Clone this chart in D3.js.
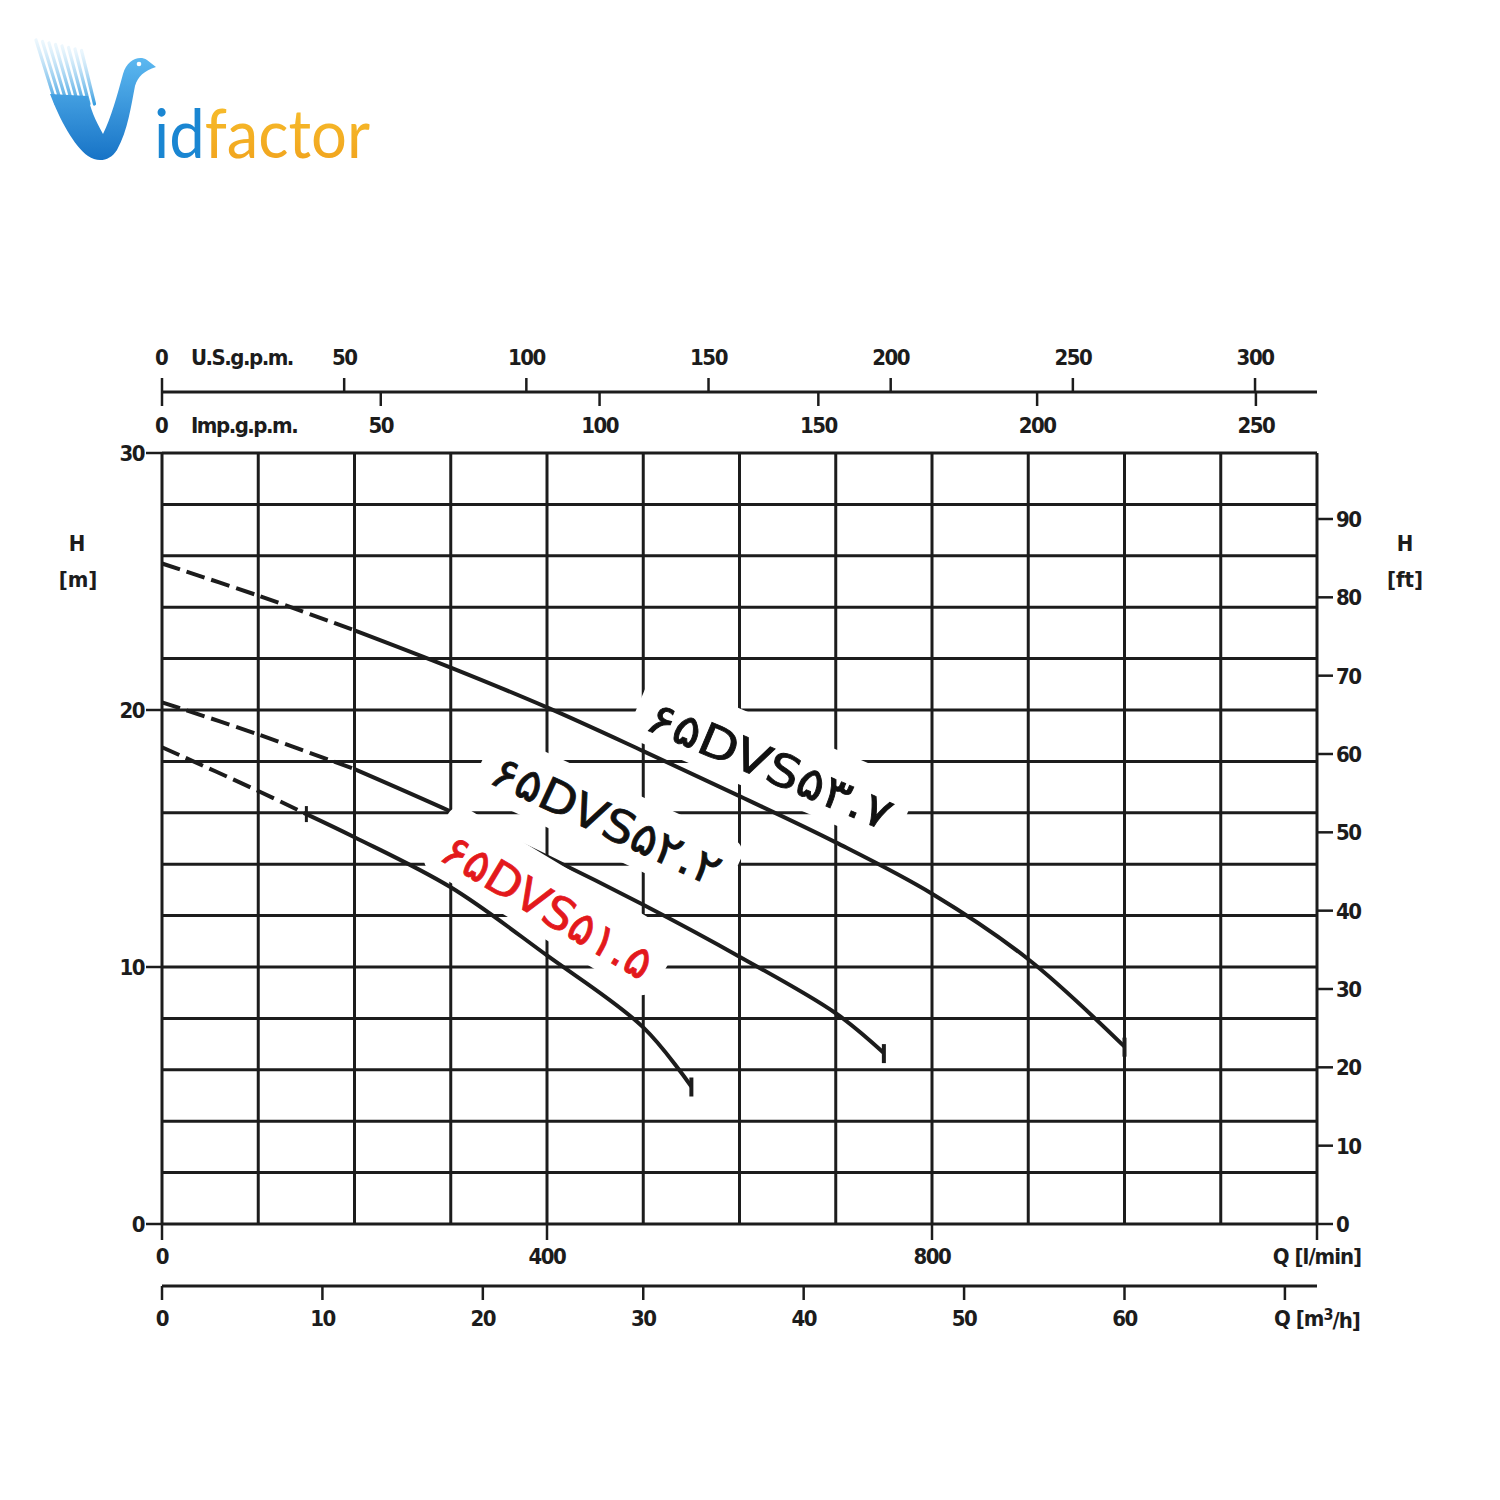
<!DOCTYPE html>
<html><head><meta charset="utf-8">
<script src="https://cdn.jsdelivr.net/npm/d3@7"></script>
<style>body{margin:0;background:#fff} svg{display:block}</style>
</head><body><svg id="c" width="1500" height="1500"></svg>
<script>
// ---- data ----
const qA = [0,100,200,300,400,500,600,700,800,900,1000];          // l/min
const hA = [25.7,24.45,23.1,21.65,20.1,18.4,16.65,14.85,12.85,10.3,6.9]; // m
const qB = [0,100,200,300,400,500,600,700,750];
const hB = [20.3,19.05,17.7,16.05,14.3,12.42,10.4,8.2,6.65];
const qC = [0,100,150,200,300,400,500,550];
const hC = [18.55,16.85,15.95,15.05,13.1,10.45,7.65,5.35];
const curveNames = ["۶۵DVS۵۳.۷","۶۵DVS۵۲.۲","۶۵DVS۵۱.۵"];
const dashEnd = [200,200,150];
const labelQ = [632,462,401];
const labelH = [17.86,15.72,12.37];
const labelAngle = [23,25,31];
const labelLen = [262,248,238];
const labelColor = ["#111","#111","#e3191c"];
const usTicks = [50,100,150,200,250,300];
const impTicks = [50,100,150,200,250];
const lpmTicks = [0,400,800];
const m3hTicks = [0,10,20,30,40,50,60];
const ftTicks = [0,10,20,30,40,50,60,70,80,90];
const mTicks = [0,10,20,30];

const svg = d3.select("#c");
const ink = "#1c1c1c";
const fnt = "'Liberation Sans Narrow','DejaVu Sans Condensed',sans-serif";

// ---- scales ----
const x = d3.scaleLinear().domain([0,1200]).range([162,1317]);
const y = d3.scaleLinear().domain([0,30]).range([1224,453]);
const xUS = d3.scaleLinear().domain([0,1200/3.78541]).range([162,1317]);
const xImp = d3.scaleLinear().domain([0,1200/4.54609]).range([162,1317]);
const xM3 = d3.scaleLinear().domain([0,72]).range([162,1317]);
const yFt = d3.scaleLinear().domain([0,30*3.28084]).range([1224,453]);

// ---- logo ----
const defs = svg.append("defs");
const gb = defs.append("linearGradient").attr("id","gblue").attr("x1",0).attr("y1",0).attr("x2",0).attr("y2",1);
gb.append("stop").attr("offset","0%").attr("stop-color","#5cb8f0");
gb.append("stop").attr("offset","100%").attr("stop-color","#1773c6");
const go = defs.append("linearGradient").attr("id","gorange").attr("x1",0).attr("y1",0).attr("x2",0).attr("y2",1);
go.append("stop").attr("offset","0%").attr("stop-color","#f8c22e");
go.append("stop").attr("offset","100%").attr("stop-color","#f0a01c");
const gs = defs.append("linearGradient").attr("id","gstreak").attr("x1",0).attr("y1",0).attr("x2",0).attr("y2",1);
gs.append("stop").attr("offset","0%").attr("stop-color","#bfe3f8").attr("stop-opacity",0.3);
gs.append("stop").attr("offset","100%").attr("stop-color","#3a9ee0");
const logo = svg.append("g");
d3.range(8).forEach(k=>{
  logo.append("line").attr("x1",36+k*6.5).attr("y1",40+k*1.5).attr("x2",56+k*5.5).attr("y2",104)
    .attr("stroke","url(#gstreak)").attr("stroke-width",3.2).attr("stroke-linecap","round");
});
logo.append("path").attr("fill","url(#gblue)")
  .attr("d","M50 94 C60 120,74 146,88 156 C98 163,110 161,117 150 C128 130,131 106,135 86 C138 76,144 71,156 67 L147 60 C139 55,127 60,123 74 C117 96,111 118,103 134 C95 120,90 108,88 96 Z");
logo.append("circle").attr("cx",139).attr("cy",64).attr("r",2.3).attr("fill","#fff");
const lt = logo.append("text").attr("x",154).attr("y",158)
  .attr("font-family","Lato, 'Open Sans', sans-serif").attr("font-size",68)
  .attr("textLength",216).attr("lengthAdjust","spacingAndGlyphs");
lt.append("tspan").attr("fill","#1a86d2").text("id");
lt.append("tspan").attr("fill","url(#gorange)").text("factor");

// ---- grid ----
const grid = svg.append("g").attr("stroke",ink).attr("stroke-width",3);
d3.range(0,1201,100).forEach(q=>{
  grid.append("line").attr("x1",x(q)).attr("x2",x(q)).attr("y1",y(0)).attr("y2",y(30));
});
d3.range(0,31,2).forEach(h=>{
  grid.append("line").attr("x1",x(0)).attr("x2",x(1200)).attr("y1",y(h)).attr("y2",y(h));
});

// ---- left axis (m) ----
const axStyle = g => g.attr("font-family",fnt).attr("font-size",22).attr("font-weight","bold").attr("fill",ink);
const axl = svg.append("g").call(axStyle);
mTicks.forEach(v=>{
  axl.append("line").attr("x1",x(0)-16).attr("x2",x(0)).attr("y1",y(v)).attr("y2",y(v)).attr("stroke",ink).attr("stroke-width",2.5);
  axl.append("text").attr("x",x(0)-18).attr("y",y(v)).attr("dy","0.36em").attr("text-anchor","end").attr("letter-spacing",-1.5).text(v);
});
axl.append("text").attr("x",77).attr("y",543).attr("dy","0.36em").attr("text-anchor","middle").text("H");
axl.append("text").attr("x",78).attr("y",579).attr("dy","0.36em").attr("text-anchor","middle").text("[m]");

// ---- right axis (ft) ----
const axr = svg.append("g").call(axStyle);
ftTicks.forEach(v=>{
  axr.append("line").attr("x1",x(1200)).attr("x2",x(1200)+16).attr("y1",yFt(v)).attr("y2",yFt(v)).attr("stroke",ink).attr("stroke-width",2.5);
  axr.append("text").attr("x",x(1200)+19).attr("y",yFt(v)).attr("dy","0.36em").attr("letter-spacing",-1.5).text(v);
});
axr.append("text").attr("x",1405).attr("y",543).attr("dy","0.36em").attr("text-anchor","middle").text("H");
axr.append("text").attr("x",1405).attr("y",579).attr("dy","0.36em").attr("text-anchor","middle").text("[ft]");

// ---- top axes (US gpm above, Imp gpm below) ----
const axt = svg.append("g").call(axStyle);
const topY = 392;
axt.append("line").attr("x1",xUS(0)).attr("x2",x(1200)).attr("y1",topY).attr("y2",topY).attr("stroke",ink).attr("stroke-width",3);
axt.append("line").attr("x1",xUS(0)).attr("x2",xUS(0)).attr("y1",topY-14).attr("y2",topY+14).attr("stroke",ink).attr("stroke-width",2.5);
usTicks.forEach(v=>{
  axt.append("line").attr("x1",xUS(v)).attr("x2",xUS(v)).attr("y1",topY-14).attr("y2",topY).attr("stroke",ink).attr("stroke-width",2.5);
  axt.append("text").attr("x",xUS(v)).attr("y",357).attr("dy","0.36em").attr("text-anchor","middle").attr("letter-spacing",-1.5).text(v);
});
impTicks.forEach(v=>{
  axt.append("line").attr("x1",xImp(v)).attr("x2",xImp(v)).attr("y1",topY).attr("y2",topY+14).attr("stroke",ink).attr("stroke-width",2.5);
  axt.append("text").attr("x",xImp(v)).attr("y",425).attr("dy","0.36em").attr("text-anchor","middle").attr("letter-spacing",-1.5).text(v);
});
axt.append("text").attr("x",xUS(0)).attr("y",357).attr("dy","0.36em").attr("text-anchor","middle").text("0");
axt.append("text").attr("x",191).attr("y",357).attr("dy","0.36em").attr("letter-spacing",-1.5).text("U.S.g.p.m.");
axt.append("text").attr("x",xImp(0)).attr("y",425).attr("dy","0.36em").attr("text-anchor","middle").text("0");
axt.append("text").attr("x",191).attr("y",425).attr("dy","0.36em").attr("letter-spacing",-1.5).text("Imp.g.p.m.");

// ---- bottom axes ----
const axb = svg.append("g").call(axStyle);
lpmTicks.concat([1200]).forEach(v=>{
  axb.append("line").attr("x1",x(v)).attr("x2",x(v)).attr("y1",y(0)).attr("y2",y(0)+16).attr("stroke",ink).attr("stroke-width",2.5);
});
lpmTicks.forEach(v=>{
  axb.append("text").attr("x",x(v)).attr("y",1256).attr("dy","0.36em").attr("text-anchor","middle").attr("letter-spacing",-1.5).text(v);
});
axb.append("text").attr("x",x(1200)).attr("y",1256).attr("dy","0.36em").attr("text-anchor","middle").attr("letter-spacing",-1).text("Q [l/min]");
const m3Y = 1286;
axb.append("line").attr("x1",xM3(0)).attr("x2",x(1200)).attr("y1",m3Y).attr("y2",m3Y).attr("stroke",ink).attr("stroke-width",3);
m3hTicks.concat([70]).forEach(v=>{
  axb.append("line").attr("x1",xM3(v)).attr("x2",xM3(v)).attr("y1",m3Y).attr("y2",m3Y+14).attr("stroke",ink).attr("stroke-width",2.5);
});
m3hTicks.forEach(v=>{
  axb.append("text").attr("x",xM3(v)).attr("y",1318).attr("dy","0.36em").attr("text-anchor","middle").attr("letter-spacing",-1.5).text(v);
});
const qm = axb.append("text").attr("x",x(1200)).attr("y",1318).attr("dy","0.36em").attr("text-anchor","middle").attr("letter-spacing",-1);
qm.append("tspan").text("Q [m");
qm.append("tspan").attr("dy","-0.35em").attr("font-size",16).text("3");
qm.append("tspan").attr("dy","0.35em").text("/h]");

// ---- curves ----
const curves = [
  {q:qA,h:hA},{q:qB,h:hB},{q:qC,h:hC}
].map((c,i)=>({pts:c.q.map((q,j)=>[q,c.h[j]]), dash:dashEnd[i], name:curveNames[i]}));
const line = d3.line().x(d=>x(d[0])).y(d=>y(d[1])).curve(d3.curveCatmullRom.alpha(0.5));

function drawCurve(g,c){
  const a = c.pts.filter(p=>p[0]<=c.dash);
  const b = c.pts.filter(p=>p[0]>=c.dash);
  g.append("path").attr("d",line(a)).attr("fill","none").attr("stroke",ink).attr("stroke-width",4).attr("stroke-dasharray","19,7");
  g.append("path").attr("d",line(b)).attr("fill","none").attr("stroke",ink).attr("stroke-width",4);
  const d = a[a.length-1];
  g.append("line").attr("x1",x(d[0])).attr("x2",x(d[0])).attr("y1",y(d[1])-8).attr("y2",y(d[1])+8).attr("stroke",ink).attr("stroke-width",3);
  const e = b[b.length-1];
  g.append("line").attr("x1",x(e[0])).attr("x2",x(e[0])).attr("y1",y(e[1])-9).attr("y2",y(e[1])+10).attr("stroke",ink).attr("stroke-width",4);
}
const under = svg.append("g");
drawCurve(under,curves[1]);
const boxes = svg.append("g");
const over = svg.append("g");
drawCurve(over,curves[0]);
drawCurve(over,curves[2]);
const texts = svg.append("g");
const boxTop = [-40,-36,-42];
const boxBot = [30,32,30];
curves.forEach((c,i)=>{
  const tr = `translate(${x(labelQ[i])},${y(labelH[i])}) rotate(${labelAngle[i]})`;
  boxes.append("rect").attr("transform",tr).attr("x",-labelLen[i]/2-14).attr("y",boxTop[i])
    .attr("width",labelLen[i]+28).attr("height",boxBot[i]-boxTop[i]).attr("rx",14).attr("fill","#fff");
  texts.append("text").attr("transform",tr).attr("text-anchor","middle").attr("dy","0.36em")
    .attr("font-family","'DejaVu Sans',sans-serif").attr("font-size",45).attr("fill",labelColor[i])
    .attr("stroke",labelColor[i]).attr("stroke-width",0.8)
    .attr("textLength",labelLen[i]).attr("lengthAdjust","spacingAndGlyphs").text(c.name);
});
</script></body></html>
